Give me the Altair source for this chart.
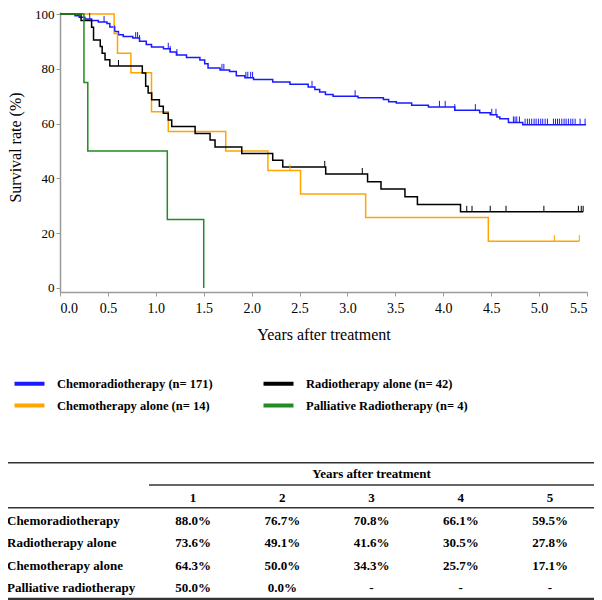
import altair as alt
import pandas as pd

# ---------------- data ----------------
groups = ["Chemoradiotherapy (n= 171)", "Chemotherapy alone (n= 14)",
          "Radiotherapy alone (n= 42)", "Palliative Radiotherapy (n= 4)"]
colors = ["#1a1aff", "#ffa500", "#000000", "#228b22"]

# Chemoradiotherapy
crt_t = [0, 0.156, 0.20, 0.26, 0.33, 0.40, 0.49, 0.52, 0.57, 0.61,
         0.66, 0.76, 0.83, 0.90, 0.955, 1.08, 1.15, 1.215, 1.32, 1.46,
         1.51, 1.545, 1.67, 1.77, 1.84, 1.93, 2.02, 2.22, 2.40, 2.59,
         2.66, 2.71, 2.77, 2.85, 3.11, 3.375, 3.43, 3.51, 3.67, 3.845,
         4.12, 4.38, 4.49, 4.56, 4.59, 4.68, 4.83, 5.49]
crt_s = [100, 99.4, 98.8, 98.2, 97.6, 97.1, 96.5, 95.3, 93.6, 92.4,
         91.8, 91.2, 90.1, 88.9, 88.0, 87.3, 86.1, 85.0, 84.1, 83.2,
         81.8, 80.3, 79.6, 79.0, 77.5, 76.7, 76.1, 75.2, 74.4, 73.4,
         72.4, 71.5, 70.6, 70.0, 69.4, 68.8, 68.0, 67.5, 66.7, 66.1,
         64.9, 64.0, 63.2, 62.4, 61.8, 60.4, 59.6, 59.6]
crt_c = [0.31, 0.46, 0.57, 0.79, 0.81, 0.83, 1.13, 1.15, 1.22, 1.69, 1.71,
         1.94, 1.96, 1.99, 2.01, 2.63, 3.08, 3.96, 4.02, 4.12, 4.335, 4.506,
         4.55, 4.732, 4.749, 4.767, 4.795, 4.854, 4.878, 4.899, 4.923, 4.948,
         4.969, 4.993, 5.017, 5.038, 5.063, 5.087, 5.15, 5.171, 5.192, 5.212,
         5.237, 5.261, 5.282, 5.306, 5.331, 5.352, 5.376, 5.428, 5.48]

# Chemotherapy alone
ct_t = [0, 0.565, 0.60, 0.74, 0.955, 1.13, 1.73, 2.17, 2.51, 3.19, 4.47, 5.42]
ct_s = [100, 92.9, 85.7, 78.6, 64.3, 57.1, 50.0, 42.9, 34.3, 25.7, 17.1, 17.1]
ct_c = [2.40, 5.16, 5.42]

# Radiotherapy alone
rt_t = [0, 0.22, 0.33, 0.35, 0.42, 0.44, 0.47, 0.52, 0.859, 0.894,
        0.92, 0.957, 1.037, 1.078, 1.13, 1.166, 1.41, 1.566, 1.618, 1.897,
        2.22, 2.325, 2.773, 3.21, 3.35, 3.60, 3.73, 4.18, 5.46]
rt_s = [100, 97.6, 95.2, 90.5, 88.1, 85.7, 83.3, 81.0, 78.5, 73.6,
        71.2, 68.7, 66.3, 63.8, 61.3, 58.9, 56.4, 54.0, 51.5, 49.1,
        46.6, 44.2, 41.6, 38.8, 36.1, 33.3, 30.5, 27.8, 27.8]
rt_c = [0.61, 2.763, 3.155, 4.245, 4.30, 4.49, 4.655, 5.05, 5.41, 5.44, 5.46]

# Palliative radiotherapy
pal_t = [0, 0.25, 0.29, 1.12, 1.50]
pal_s = [100, 75, 50, 25, 0]
pal_c = []

x_ticks = [0.0, 0.5, 1.0, 1.5, 2.0, 2.5, 3.0, 3.5, 4.0, 4.5, 5.0, 5.5]
y_ticks = [0, 20, 40, 60, 80, 100]

table_title = "Years after treatment"
table_years = ["1", "2", "3", "4", "5"]
table_rows = ["Chemoradiotherapy", "Radiotherapy alone",
              "Chemotherapy alone", "Palliative radiotherapy"]
table_vals = [
    ["88.0%", "76.7%", "70.8%", "66.1%", "59.5%"],
    ["73.6%", "49.1%", "41.6%", "30.5%", "27.8%"],
    ["64.3%", "50.0%", "34.3%", "25.7%", "17.1%"],
    ["50.0%", "0.0%", "-", "-", "-"],
]

# ---------------- tables for the library ----------------
series = [(crt_t, crt_s, crt_c), (ct_t, ct_s, ct_c), (rt_t, rt_s, rt_c), (pal_t, pal_s, pal_c)]
for ts, ss, _ in series:
    assert len(ts) == len(ss)


def level_at(ts, ss, t):
    v = ss[0]
    for a, b in zip(ts, ss):
        if a <= t + 1e-9:
            v = b
    return v


line_rows, cens_rows = [], []
for g, (ts, ss, cs) in zip(groups, series):
    for t, s in zip(ts, ss):
        line_rows.append({"group": g, "t": t, "s": s})
    for c in cs:
        lv = level_at(ts, ss, c)
        cens_rows.append({"group": g, "t": c, "s": lv, "s2": lv + 2.2})
lines_df = pd.DataFrame(line_rows)
cens_df = pd.DataFrame(cens_rows)

cells_df = pd.DataFrame([
    {"r": i, "c": j + 1, "txt": v}
    for i, row in enumerate(table_vals) for j, v in enumerate(row)
])
rowlab_df = pd.DataFrame({"r": list(range(len(table_rows))), "txt": table_rows})
head_df = pd.DataFrame({"c": list(range(1, len(table_years) + 1)), "txt": table_years})
title_df = pd.DataFrame({"txt": [table_title]})

SERIF = "Liberation Serif"
x_scale = alt.Scale(domain=[0, 5.5], nice=False, zero=False)
y_scale = alt.Scale(domain=[-1.46, 100.73], nice=False, zero=False)
color_scale = alt.Scale(domain=groups, range=colors)

x_enc = alt.X("t:Q", scale=x_scale, axis=alt.Axis(
    values=x_ticks, format=".1f", title="Years after treatment", grid=False,
    tickSize=4, labelPadding=5, titlePadding=11))
y_enc = alt.Y("s:Q", scale=y_scale, axis=alt.Axis(
    values=y_ticks, title="Survival rate (%)", grid=False, tickSize=4,
    labelPadding=2, labelFontSize=13, titleX=-45, titleY=135, titleAngle=270,
    titleAlign="center", titleBaseline="middle"))

lines = alt.Chart(lines_df).mark_line(interpolate="step-after", strokeWidth=1.5).encode(
    x=x_enc, y=y_enc,
    color=alt.Color("group:N", scale=color_scale, sort=groups, legend=alt.Legend(
        title=None, orient="none", legendX=-40, legendY=362, columns=2,
        symbolType="M-2,0H2", symbolSize=225, symbolStrokeWidth=4,
        labelFont=SERIF, labelFontSize=12.5, labelFontWeight="bold",
        labelColor="black", columnPadding=42, rowPadding=4, labelLimit=400,
        labelOffset=18)),
)
cens = alt.Chart(cens_df).mark_rule(strokeWidth=1).encode(
    x=x_enc, y=y_enc, y2="s2:Q",
    color=alt.Color("group:N", scale=color_scale, sort=groups),
)
plot = alt.layer(lines, cens)

col_scale = alt.Scale(domain=[1, 5], range=[133, 490])
row_scale = alt.Scale(domain=[0, 3], range=[509, 576])
tfont = dict(font=SERIF, fontSize=13, fontWeight="bold", color="black", baseline="middle")

cells = alt.Chart(cells_df).mark_text(align="center", **tfont).encode(
    x=alt.X("c:Q", scale=col_scale, axis=None),
    y=alt.Y("r:Q", scale=row_scale, axis=None),
    text="txt:N")
rowlabs = alt.Chart(rowlab_df).mark_text(align="left", **tfont).encode(
    x=alt.value(-53),
    y=alt.Y("r:Q", scale=row_scale, axis=None),
    text="txt:N")
heads = alt.Chart(head_df).mark_text(align="center", **tfont).encode(
    x=alt.X("c:Q", scale=col_scale, axis=None),
    y=alt.value(485.7),
    text="txt:N")
ttitle = alt.Chart(title_df).mark_text(align="center", **tfont).encode(
    x=alt.value(311.5), y=alt.value(462), text="txt:N")

rule_df = pd.DataFrame({"k": [0]})
def hline(x1, x2, y, w=1.5):
    return alt.Chart(rule_df).mark_rule(color="#333333", strokeWidth=w).encode(
        x=alt.value(x1), x2=alt.value(x2), y=alt.value(y))

rules = [hline(-57, 535, 450.7), hline(89, 535, 473), hline(-57, 535, 495.7),
         hline(-57, 535, 587, 2.5)]

chart = alt.layer(plot, cells, rowlabs, heads, ttitle, *rules).resolve_scale(
    x="independent", y="independent"
).properties(
    width=527, height=280,
    padding={"left": 52, "top": 4, "right": 7, "bottom": 308},
    autosize=alt.AutoSizeParams(type="none"),
).configure_view(stroke=None).configure_axis(
    domainColor="#9a9a9a", tickColor="#9a9a9a", domainWidth=1.5, tickWidth=1,
    labelFont=SERIF, labelFontSize=14, labelColor="black",
    titleFont=SERIF, titleFontSize=16, titleFontWeight="normal", titleColor="black",
)

chart.save("out.html", embed_options={"renderer": "svg", "actions": False})
